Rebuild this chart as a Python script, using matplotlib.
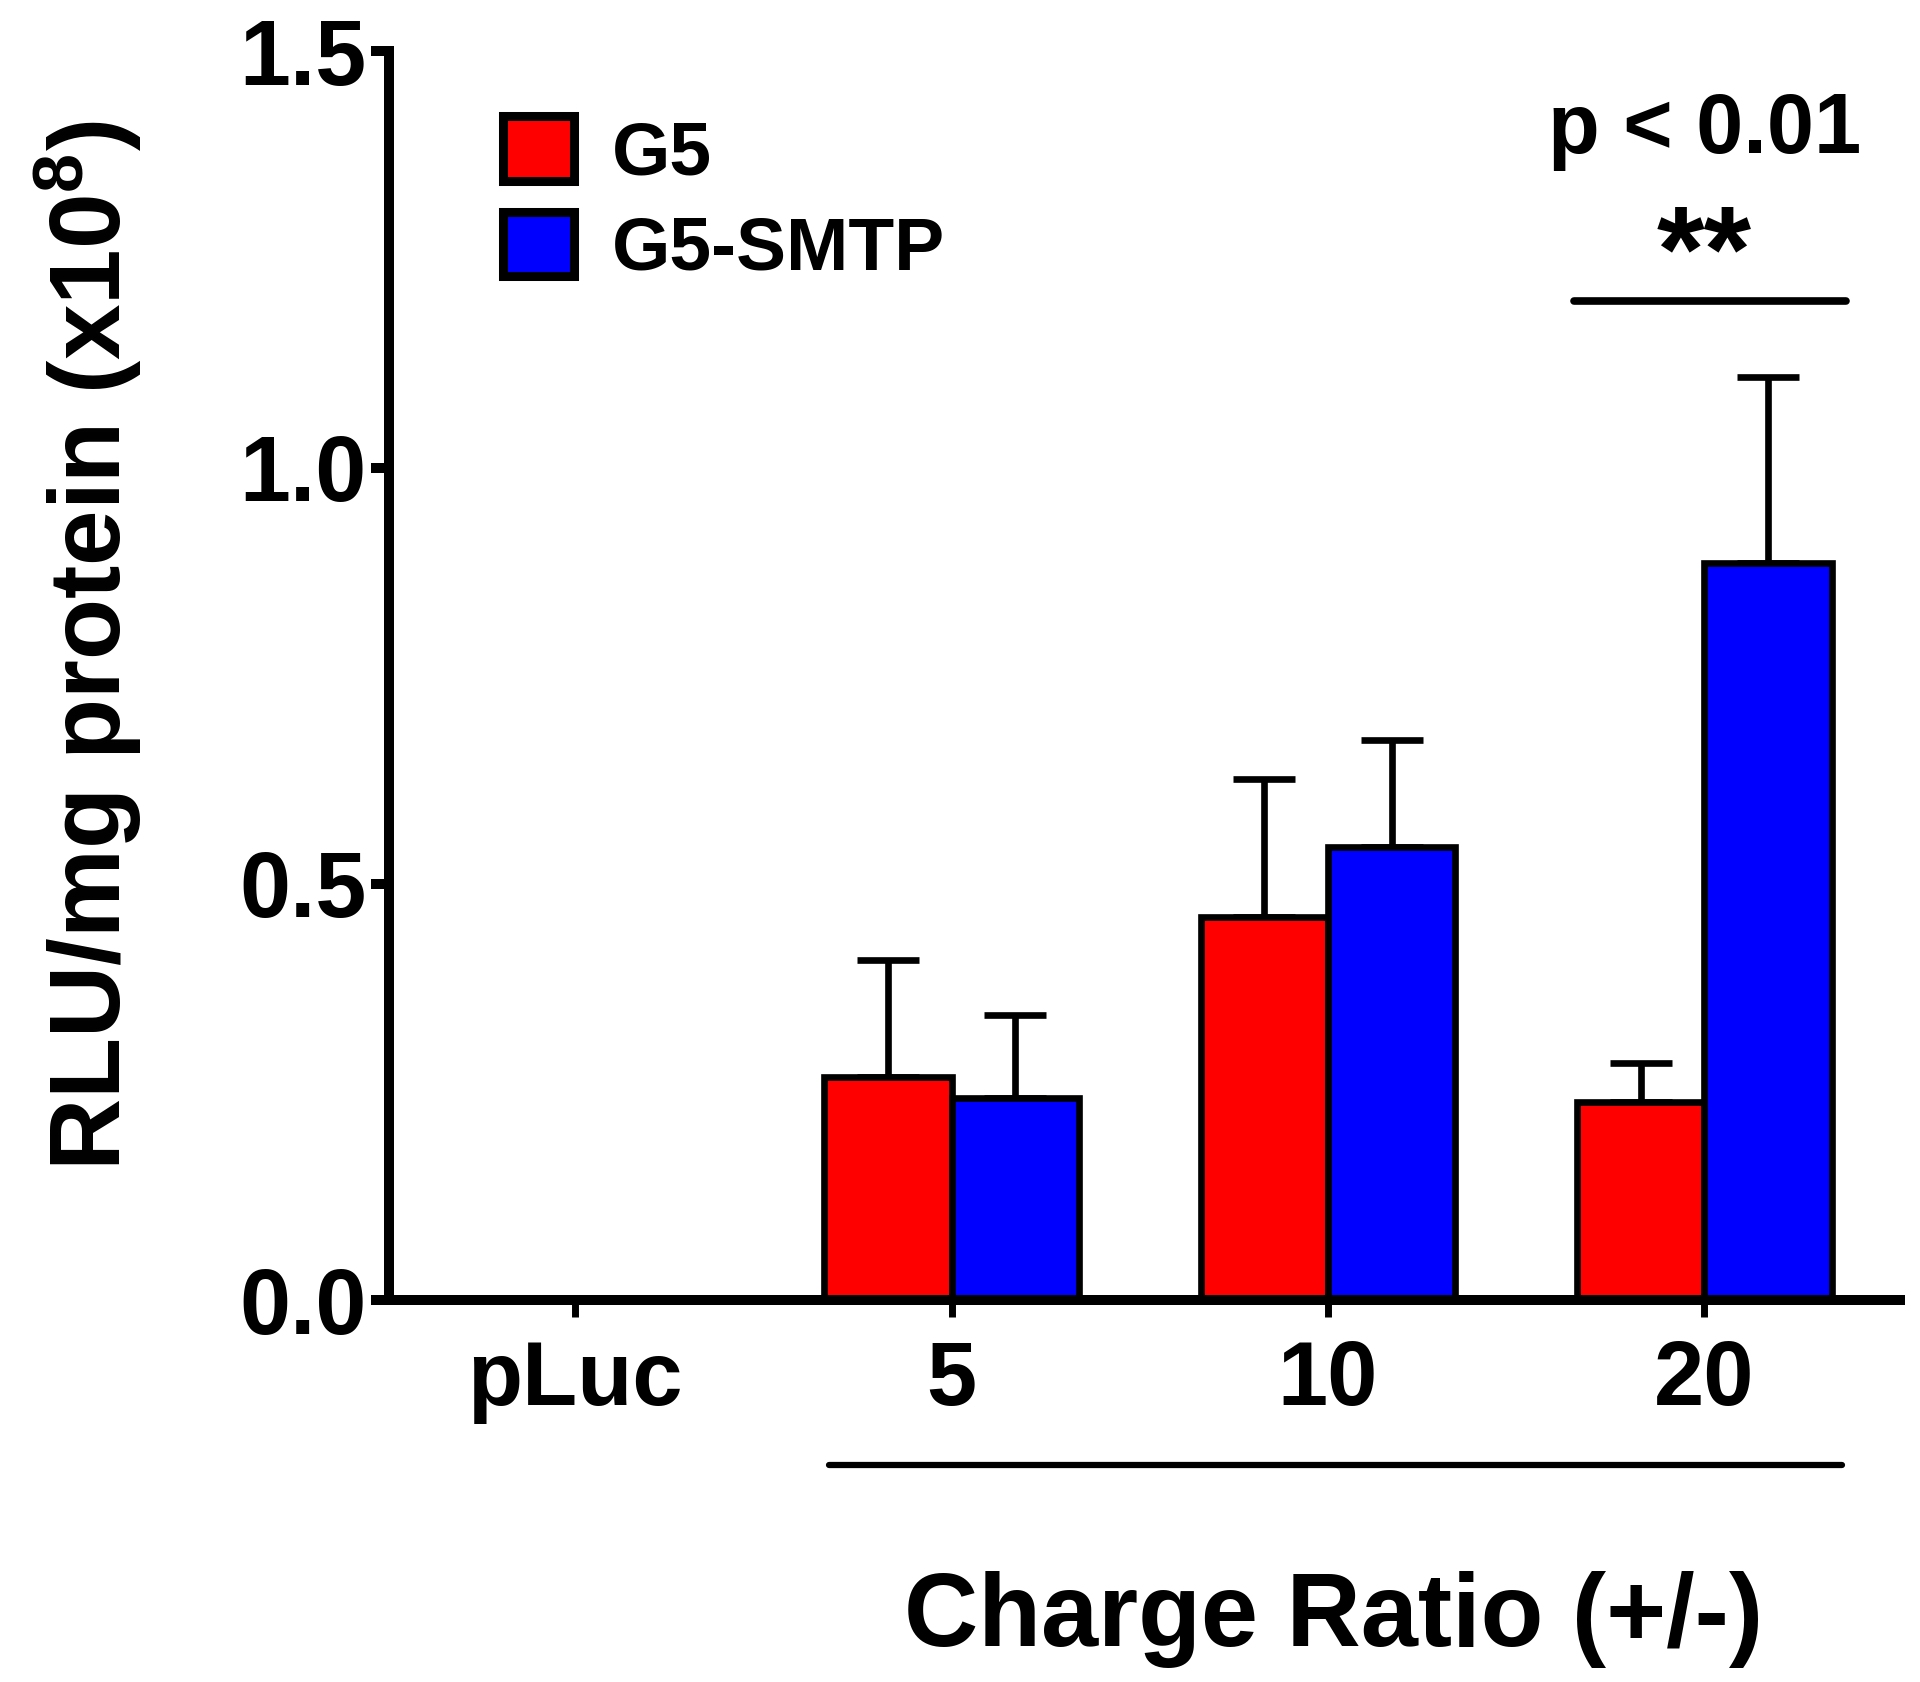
import numpy as np
import matplotlib
matplotlib.use("Agg")
import matplotlib.pyplot as plt
from matplotlib.patches import Patch
import matplotlib.transforms as mtransforms

plt.rcParams['font.family'] = ['Liberation Sans', 'DejaVu Sans']
plt.rcParams['font.weight'] = 'bold'
plt.rcParams['mathtext.fontset'] = 'custom'
plt.rcParams['mathtext.rm'] = 'Liberation Sans:bold'
plt.rcParams['mathtext.bf'] = 'Liberation Sans:bold'
plt.rcParams['mathtext.default'] = 'rm'

# ---- data ----
categories = ['pLuc', '5', '10', '20']
series_names = ['G5', 'G5-SMTP']
g5_mean = [0.0, 0.268, 0.460, 0.238]
g5_err = [0.0, 0.141, 0.166, 0.047]
smtp_mean = [0.0, 0.243, 0.544, 0.885]
smtp_err = [0.0, 0.100, 0.129, 0.224]
yticks = [0.0, 0.5, 1.0, 1.5]
ytick_labels = ['0.0', '0.5', '1.0', '1.5']
colors = ['#FF0000', '#0000FF']

fig = plt.figure(figsize=(19.2, 16.82), dpi=100)
ax = fig.add_axes([0.2026, 0.2271, 0.9896 - 0.2026, 0.7423])

x = np.arange(len(categories))
w = 0.338
lw_bar = 4.8
for i, (m, e) in enumerate([(g5_mean, g5_err), (smtp_mean, smtp_err)]):
    pos = x + (i - 0.5) * w
    ax.bar(pos, m, width=w, color=colors[i], edgecolor='black', linewidth=lw_bar, zorder=3)
    ax.errorbar(pos, m, yerr=[np.zeros(len(e)), e], fmt='none', ecolor='black',
                elinewidth=4.8, capsize=22, capthick=4.8, zorder=2)

ax.set_xlim(-0.495, 3.52)
ax.set_ylim(0, 1.5)
ax.set_xticks(x)
ax.set_xticklabels(categories, fontsize=65, fontweight='bold')
ax.set_yticks(yticks)
ax.set_yticklabels(ytick_labels, fontsize=66, fontweight='bold')
for s in ['top', 'right']:
    ax.spines[s].set_visible(False)
for s in ['left', 'bottom']:
    ax.spines[s].set_linewidth(7.2)
    ax.spines[s].set_zorder(4)
ax.tick_params(axis='y', direction='out', length=13, width=7.2, pad=3)
ax.tick_params(axis='x', direction='out', length=12, width=5, pad=16)

# significance annotation
ax.plot([2.655, 3.377], [1.2, 1.2], color='black', linewidth=5.5, solid_capstyle='round')
ax.text(3.0, 1.252, '**', ha='center', va='center', fontsize=88, fontweight='bold')
ax.text(3.0, 1.405, 'p < 0.01', ha='center', va='center', fontsize=61, fontweight='bold')

# charge ratio bracket line and label
trans = mtransforms.blended_transform_factory(ax.transData, ax.transAxes)
ax.plot([0.674, 3.366], [-0.132, -0.132], color='black', linewidth=4.5,
        transform=trans, clip_on=False, solid_capstyle='round')
ax.text(2.016, -0.256, 'Charge Ratio (+/-)', transform=trans, ha='center', va='center',
        fontsize=74, fontweight='bold')

# y label
fig.text(89 / 1920, 1 - 646 / 1682, r'RLU/mg protein (x10$^{8}$)', rotation=90,
         ha='center', va='center', fontsize=72, fontweight='bold')

# legend
handles = [Patch(facecolor=colors[i], edgecolor='black', linewidth=6.5, label=series_names[i])
           for i in range(2)]
leg = ax.legend(handles=handles, loc='upper left', bbox_to_anchor=(503 / 1920, 1 - 116 / 1682),
                bbox_transform=fig.transFigure, frameon=False,
                handlelength=0.95, handleheight=0.95, handletextpad=0.5, labelspacing=0.3,
                borderpad=0, borderaxespad=0, prop={'weight': 'bold', 'size': 54})

fig.savefig('out.png', dpi=100)
